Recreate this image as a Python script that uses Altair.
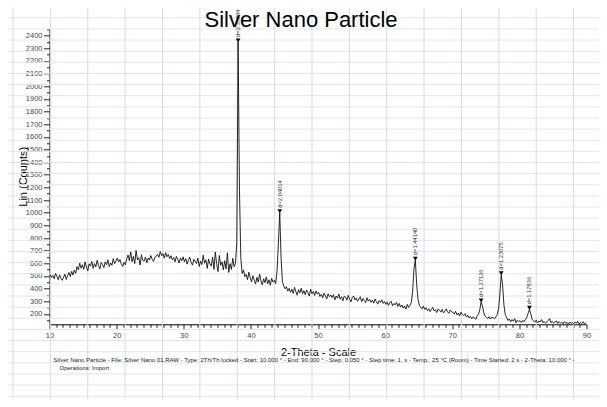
import altair as alt
import pandas as pd

# ---- scan (2-Theta grid: start 10.1 deg, step 0.2 deg) ----
scan_start = 10.1
scan_step = 0.2
counts = [
    512, 488, 505, 478, 520, 497, 470, 509, 482, 466,
    490, 514, 472, 503, 528, 495, 536, 508, 547, 521,
    574, 548, 601, 562, 589, 553, 612, 571, 540, 596,
    578, 615, 560, 598, 572, 624, 583, 556, 607, 590,
    566, 612, 589, 628, 574, 603, 585, 637, 598, 618,
    642, 611, 630, 596, 575, 608, 588, 634, 666, 621,
    690, 612, 655, 598, 702, 628, 645, 587, 668, 623,
    618, 650, 605, 642, 626, 661, 632, 615, 648, 655,
    672, 648, 693, 660, 677, 641, 684, 652, 670, 637,
    660, 628, 646, 612, 655, 631, 603, 642, 620, 651,
    612, 638, 594, 625, 650, 607, 586, 631, 615, 598,
    642, 575, 618, 590, 665, 601, 628, 560, 633, 596,
    578, 648, 552, 690, 597, 535, 662, 584, 612, 548,
    621, 556, 683, 528, 597, 552, 640, 573, 600, 760,
    2350, 1180, 640, 520, 548, 495, 512, 470, 530, 488,
    455, 502, 468, 437, 489, 452, 515, 461, 430, 478,
    447, 493, 438, 470, 426, 481, 452, 466, 440, 540,
    760, 1000, 640, 455, 420, 398, 415, 380, 402, 371,
    395, 362, 410, 377, 348, 392, 366, 403, 359, 384,
    352, 389, 368, 341, 395, 360, 378, 346, 382, 357,
    371, 338, 355, 327, 364, 342, 318, 359, 336, 350,
    329, 352, 310, 341, 325, 358, 317, 336, 303, 340,
    333, 308, 347, 318, 295, 329, 342, 311, 326, 300,
    318, 336, 297, 322, 306, 289, 328, 301, 315, 292,
    309, 285, 318, 296, 277, 305, 290, 312, 283, 298,
    276, 295, 268, 289, 301, 264, 282, 272, 291, 259,
    283, 254, 270, 246, 262, 238, 275, 251, 268, 290,
    380, 560, 625, 430, 315, 268, 254, 240, 262, 236,
    248, 226, 241, 219, 237, 252, 224, 233, 211, 240,
    229, 214, 236, 208, 222, 240, 217, 205, 231, 219,
    212, 198, 221, 193, 207, 183, 214, 196, 188, 202,
    175, 190, 168, 181, 162, 176, 170, 158, 183, 196,
    232, 295, 262, 208, 182, 171, 165, 178, 160, 174,
    170, 162, 178, 195, 240, 360, 510, 430, 270, 195,
    172, 148, 160, 137, 155, 142, 163, 130, 151, 140,
    146, 132, 150, 138, 155, 172, 205, 236, 200, 158,
    146, 135, 151, 128, 143, 137, 155, 131, 140, 126,
    138, 149, 163, 132, 141, 127, 136, 145, 124, 139,
    128, 135, 121, 140, 126, 133, 119, 137, 125, 130,
    122, 136, 127, 142, 120, 131, 125, 138, 121, 133,
]
two_theta = [round(scan_start + scan_step * i, 2) for i in range(len(counts))]

# ---- peak markers ----
peak_theta = [38.1, 44.3, 64.5, 74.3, 77.3, 81.5]
peak_labels = ["d=2.36034", "d=2.04014", "d=1.44140", "d=1.27126", "d=1.23075", "d=1.17836"]
peak_counts = [counts[two_theta.index(t)] for t in peak_theta]

# ---- axes ----
x_ticks = list(range(10, 91))
y_ticks = list(range(150, 2451, 50))
x_domain = [10, 90]
y_domain = [118, 2450]

# ---- texts ----
chart_title = "Silver Nano Particle"
x_title = "2-Theta - Scale"
y_title = "Lin (Counts)"
footer_lines = [
    "Silver Nano Particle - File: Silver Nano 01.RAW - Type: 2Th/Th locked - Start: 10.000 ° - End: 90.000 ° - "
    "Step: 0.050 ° - Step time: 1. s - Temp.: 25 °C (Room) - Time Started: 2 s - 2-Theta: 10.000 ° -",
    "Operations: Import",
]

# ---- spreadsheet background grid (cell indices) ----
sheet_cols = list(range(16))
sheet_rows = list(range(1, 36))

W, H = 537, 295
FONT = "Liberation Sans"

scan = pd.DataFrame({"two_theta": two_theta, "counts": counts})
peaks = pd.DataFrame({"two_theta": peak_theta, "counts": peak_counts, "label": peak_labels})

xscale = alt.Scale(domain=x_domain, nice=False, zero=False)
yscale = alt.Scale(domain=y_domain, nice=False, zero=False)

x_axis = alt.Axis(
    values=x_ticks,
    tickCount=200,
    format="d",
    labelExpr="datum.value % 10 === 0 ? datum.label : ''",
    tickSize={"condition": {"test": "datum.value % 10 === 0", "value": 5}, "value": 3},
    labelPadding=2,
    labelFontSize=7.5,
    labelFlush=False,
    labelOverlap=False,
    grid=False,
    title=x_title,
    titleFontSize=11,
    titleFontWeight="normal",
    titleColor="black",
    titleY=31,
    titleBaseline="alphabetic",
)
y_axis = alt.Axis(
    values=y_ticks,
    tickCount=200,
    format="d",
    labelExpr="datum.value % 100 === 0 ? datum.label : ''",
    tickSize={"condition": {"test": "datum.value % 100 === 0", "value": 6}, "value": 3},
    labelPadding=1.5,
    labelFontSize=7.5,
    labelFlush=False,
    labelOverlap=False,
    grid=False,
    title=y_title,
    titleFontSize=11,
    titleFontWeight="normal",
    titleColor="black",
    titleAngle=270,
    titleX=-26,
    titleY=147,
    titleAlign="center",
    titleBaseline="middle",
)

line = alt.Chart(scan).mark_line(color="#111111", strokeWidth=0.9).encode(
    x=alt.X("two_theta:Q", scale=xscale, axis=x_axis),
    y=alt.Y("counts:Q", scale=yscale, axis=y_axis),
)
markers = alt.Chart(peaks).mark_point(
    shape="triangle-down", filled=True, color="black", size=22, opacity=1, yOffset=-1.5
).encode(x="two_theta:Q", y="counts:Q")
labels = alt.Chart(peaks).mark_text(
    angle=270, align="left", baseline="middle", dx=5, fontSize=5.8, color="#333333", font=FONT
).encode(x="two_theta:Q", y="counts:Q", text="label:N")

data_layer = alt.layer(line, markers, labels)

grid_v = alt.Chart(pd.DataFrame({"col": sheet_cols})).mark_rule(
    color="#d3dbeb", strokeWidth=1
).encode(
    x=alt.X("col:Q", scale=alt.Scale(domain=[0, 15], range=[-36.5, 524.1], nice=False, zero=False), axis=None),
    y=alt.value(-22),
    y2=alt.value(H + 80),
)
grid_h = alt.Chart(pd.DataFrame({"row": sheet_rows})).mark_rule(
    color="#dfe5f0", strokeWidth=1
).encode(
    y=alt.Y("row:Q", scale=alt.Scale(domain=[1, 35], range=[-11.5, 366.9], nice=False, zero=False), axis=None),
    x=alt.value(-42),
    x2=alt.value(W + 14),
)

title_mark = alt.Chart(pd.DataFrame({"t": [chart_title]})).mark_text(
    align="center", baseline="alphabetic", fontSize=22, font=FONT, color="black"
).encode(text="t:N", x=alt.value(W / 2 - 17), y=alt.value(-2))

footer1 = alt.Chart(pd.DataFrame({"t": [footer_lines[0]]})).mark_text(
    align="left", baseline="alphabetic", fontSize=6.0, font=FONT, color="#222222"
).encode(text="t:N", x=alt.value(4), y=alt.value(H + 38))
footer2 = alt.Chart(pd.DataFrame({"t": [footer_lines[1]]})).mark_text(
    align="left", baseline="alphabetic", fontSize=6.0, font=FONT, color="#222222"
).encode(text="t:N", x=alt.value(10), y=alt.value(H + 46))

chart = (
    alt.layer(grid_v, grid_h, data_layer, title_mark, footer1, footer2)
    .resolve_scale(x="independent", y="independent")
    .properties(
        width=W,
        height=H,
        padding={"left": 41.5, "top": 21.3, "right": 12, "bottom": 75},
        autosize=alt.AutoSizeParams(type="none"),
    )
    .configure_view(stroke=None)
    .configure_axis(
        domainColor="black", domainWidth=1, tickColor="#222222", tickWidth=1,
        labelColor="#444444", labelFont=FONT, titleFont=FONT,
    )
)

chart.save("out.html", embed_options={"renderer": "svg", "actions": False})
